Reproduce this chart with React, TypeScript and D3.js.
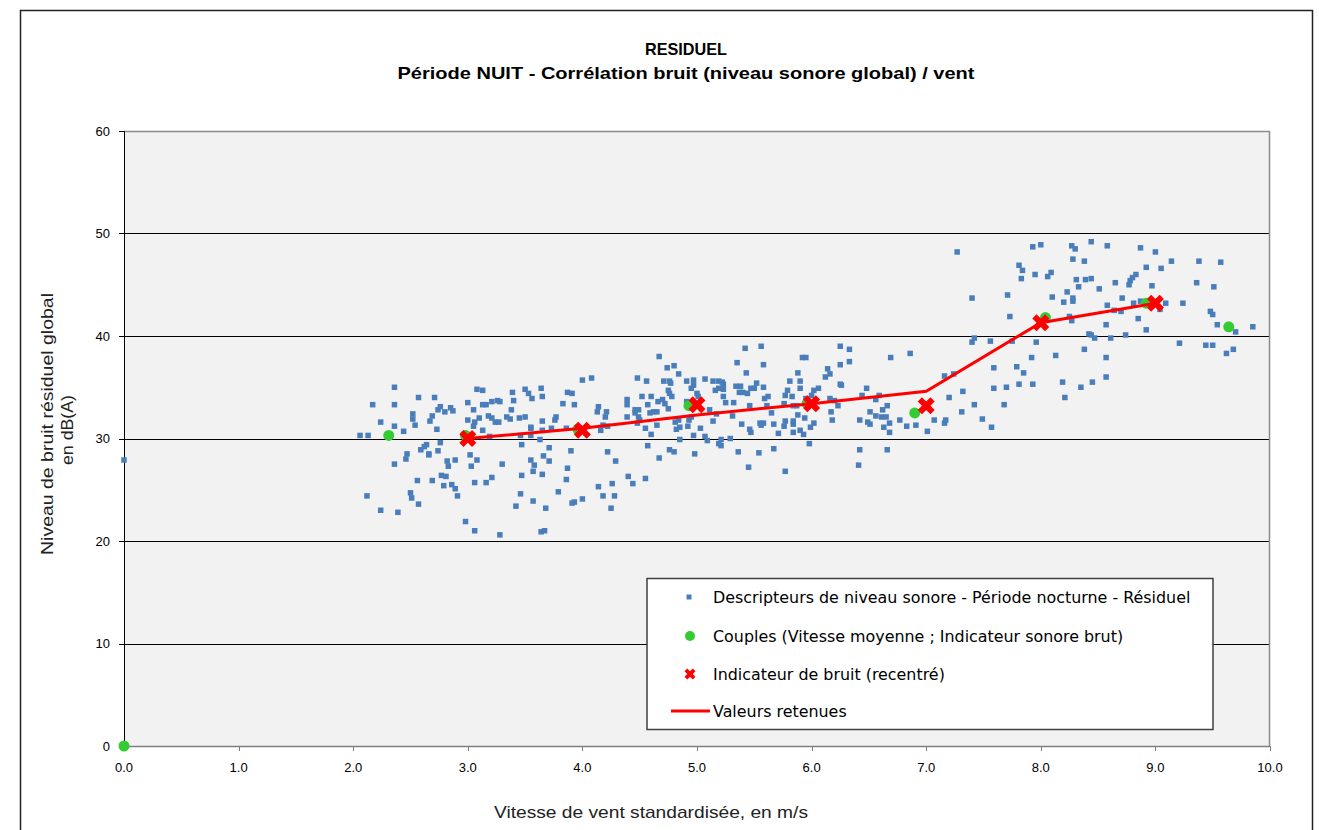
import React from 'react';
import * as d3 from 'd3';

// wind speed (m/s), level dB(A) - nightly residual descriptors
const descripteurs: [number, number][] = [
  [0, 27.9],
  [2.36, 35.0], [2.17, 33.3], [2.36, 33.3], [2.57, 34.0], [2.71, 34.0], [2.24, 31.6], [2.36, 31.2], [2.44, 30.7], [2.06, 30.3], [2.13, 30.3],
  [2.52, 32.4], [2.52, 31.9], [2.54, 31.3], [2.67, 31.7], [2.69, 32.2], [2.73, 30.9], [2.74, 32.8], [2.76, 33.1], [2.80, 32.6], [2.85, 33.0], [2.87, 32.7],
  [3.00, 33.5], [3.05, 32.8], [3.00, 31.8], [3.06, 31.6], [3.10, 32.0], [3.05, 31.2], [3.08, 34.8], [3.13, 34.7],
  [3.13, 33.3], [3.16, 33.3], [3.21, 33.6], [3.26, 33.7], [3.28, 33.6],
  [3.18, 32.2], [3.21, 32.0], [3.24, 31.6], [3.27, 31.6], [3.34, 32.1], [3.37, 31.9], [3.38, 32.8], [3.40, 33.7], [3.39, 34.5], [3.50, 34.8], [3.53, 34.4], [3.56, 33.9], [3.45, 32.0], [3.50, 32.1],
  [3.13, 30.8], [3.19, 30.2], [3.46, 30.3], [3.47, 29.4], [3.55, 31.1], [3.55, 30.3],
  [2.76, 29.6], [2.74, 28.8], [2.64, 29.4], [2.62, 29.2], [2.59, 28.9], [2.66, 28.5], [2.66, 28.4], [2.47, 28.5], [2.46, 28.0], [2.36, 27.5],
  [2.82, 27.8], [2.83, 27.3], [2.89, 27.9], [3.02, 28.4], [3.08, 27.9], [3.03, 27.3], [3.30, 27.5],
  [2.77, 26.4], [2.81, 26.3], [2.56, 25.9], [2.69, 25.9], [2.79, 25.4], [2.86, 25.5], [2.89, 25.1], [2.91, 24.4], [3.06, 25.7], [3.16, 25.7], [3.21, 26.2], [3.47, 26.4],
  [2.50, 24.7], [2.51, 24.2], [2.57, 23.6], [2.12, 24.4], [2.24, 23.0], [2.39, 22.8], [2.98, 21.9], [3.06, 21.0], [3.28, 20.6], [3.46, 24.6], [3.42, 23.4], [3.55, 27.9], [3.57, 23.9],
  [4.67, 38.0], [4.74, 36.9], [4.80, 37.1], [4.84, 36.3], [4.48, 35.9], [4.56, 35.6], [4.71, 35.6], [4.76, 35.6], [4.77, 35.4], [4.00, 35.7], [4.08, 35.9],
  [4.91, 35.6], [4.97, 35.7], [4.97, 35.2], [5.07, 35.8], [5.14, 35.6], [5.19, 35.6],
  [3.64, 34.9], [3.65, 34.1], [3.87, 34.5], [3.91, 34.4], [3.83, 33.4], [3.93, 33.3], [4.39, 33.8], [4.39, 33.3], [4.52, 34.1], [4.60, 34.1], [4.75, 34.7], [4.76, 34.4], [4.78, 34.1],
  [4.66, 33.6], [4.70, 33.8], [4.72, 33.4], [4.75, 32.9], [4.57, 33.3], [5.00, 34.4], [5.01, 34.1], [5.16, 34.7],
  [4.14, 33.1], [4.13, 32.6], [4.21, 32.6], [4.46, 32.8], [4.49, 32.8], [4.46, 32.5], [4.59, 32.5], [4.62, 32.6], [4.65, 32.6],
  [4.39, 32.1], [4.49, 32.1], [4.50, 31.8], [4.48, 31.5], [4.20, 32.1], [3.77, 32.1], [3.76, 31.8], [3.65, 31.7],
  [3.55, 31.0], [3.65, 30.8], [3.73, 31.0], [3.86, 31.0], [3.63, 29.9],
  [4.18, 31.3], [4.22, 31.2], [4.16, 30.8], [4.65, 31.3], [4.81, 31.6], [4.84, 31.8], [4.85, 31.1], [4.82, 30.9], [4.92, 31.2], [4.95, 32.1], [4.93, 31.8], [5.03, 31.0], [5.14, 31.7], [5.17, 32.4],
  [4.55, 31.0], [4.60, 30.4], [4.97, 30.3], [5.07, 30.2], [5.09, 29.8], [4.85, 29.9], [5.19, 29.5],
  [3.71, 29.1], [3.90, 28.8], [4.22, 28.7], [4.29, 27.8], [4.57, 29.3], [4.76, 28.9], [4.80, 28.7], [4.98, 28.5], [4.67, 28.1],
  [3.66, 28.3], [3.71, 27.8], [3.58, 27.4], [3.57, 26.8], [3.65, 26.5], [3.87, 27.1], [3.86, 26.0], [3.79, 24.8], [3.68, 23.2], [3.91, 23.7], [3.93, 23.8], [4.00, 24.1],
  [4.14, 25.3], [4.26, 25.6], [4.18, 24.4], [4.28, 24.4], [4.25, 23.2], [4.40, 26.3], [4.44, 25.6], [4.55, 26.1], [3.64, 20.9], [3.67, 21.0],
  [5.42, 38.8], [5.56, 39.0], [5.35, 37.4], [5.58, 37.2], [5.92, 37.9], [5.95, 37.9], [6.25, 39.0], [6.33, 38.7], [6.33, 37.5], [6.25, 37.2], [6.69, 37.9],
  [5.43, 36.4], [5.88, 36.4], [6.14, 36.8], [6.16, 36.3], [6.12, 36.0],
  [5.22, 35.5], [5.23, 35.3], [5.19, 34.9], [5.23, 34.8],
  [5.34, 35.1], [5.38, 35.1], [5.37, 34.5], [5.40, 34.5], [5.44, 34.4], [5.47, 34.9], [5.50, 34.9], [5.52, 35.4], [5.58, 35.0],
  [5.81, 35.6], [5.90, 35.6], [5.90, 34.9], [5.79, 34.7], [5.77, 34.2], [5.83, 34.1], [6.25, 35.3], [6.26, 35.2], [6.02, 34.7], [6.06, 34.9], [6.00, 34.2],
  [5.23, 34.1], [5.25, 33.5], [5.32, 33.5], [5.59, 33.9], [5.62, 34.1], [5.46, 33.2], [5.61, 33.2], [5.76, 33.4], [5.84, 33.2], [5.87, 33.2], [5.95, 33.9],
  [6.16, 33.9], [6.20, 33.7], [6.23, 33.2], [6.44, 34.2], [6.48, 34.9], [6.56, 33.8], [6.59, 34.2], [6.66, 33.2], [6.62, 32.8],
  [5.31, 32.2], [5.65, 32.5], [5.88, 32.3], [6.17, 32.6], [6.51, 32.6], [6.56, 32.2], [6.61, 32.1], [6.65, 32.1],
  [5.39, 31.4], [5.55, 31.5], [5.58, 31.5], [5.56, 31.3], [5.67, 31.4], [5.77, 31.7], [5.76, 31.2], [5.84, 31.7], [5.84, 31.4], [5.94, 32.0], [6.02, 31.5], [5.99, 31.1], [6.18, 31.8],
  [6.42, 31.8], [6.49, 31.6], [6.51, 31.4], [6.63, 31.1], [6.68, 31.5], [6.68, 30.6], [6.77, 31.8],
  [5.46, 30.9], [5.47, 30.6], [5.71, 30.5], [5.84, 30.6], [5.90, 30.8], [5.93, 30.4],
  [5.21, 29.9], [5.29, 30.0], [5.21, 29.3], [5.36, 28.7], [5.54, 28.6], [5.67, 29.0], [5.98, 29.5], [5.45, 27.2], [5.77, 26.8], [6.42, 28.9], [6.66, 28.9], [6.41, 27.4],
  [5.11, 32.8], [4.95, 34.9], [4.91, 33.6],
  [7.27, 48.2], [7.93, 48.7], [8.00, 48.9], [8.27, 48.8], [8.30, 48.5], [8.28, 47.5], [8.38, 47.3], [7.81, 46.9], [7.84, 46.4], [7.83, 45.6], [7.95, 46.0], [8.06, 45.8], [8.09, 46.2],
  [8.31, 45.5], [8.39, 45.5], [8.33, 44.8], [7.71, 44.0], [7.40, 43.7], [8.10, 43.8], [8.23, 44.3], [8.28, 43.7], [8.28, 43.4], [8.20, 43.3],
  [7.73, 41.9], [8.25, 41.9], [8.27, 41.5], [7.42, 39.8], [7.40, 39.4], [7.56, 39.5], [7.75, 39.5], [7.96, 39.4], [6.86, 38.3], [8.13, 38.1], [7.92, 37.9], [8.38, 38.7],
  [7.16, 36.1], [7.24, 36.3], [7.59, 36.9], [7.79, 37.0], [7.85, 36.4], [7.32, 34.6], [7.20, 34.0], [7.59, 34.9], [7.70, 35.0], [7.81, 35.3], [7.93, 35.3], [8.19, 35.5], [8.21, 34.0], [8.35, 35.0],
  [7.42, 33.3], [7.31, 32.6], [7.68, 33.3], [7.49, 31.9], [7.57, 31.1], [7.07, 31.8], [7.17, 31.8], [7.16, 31.5], [6.83, 31.2], [6.91, 31.3], [7.01, 30.7], [8.42, 40.2],
  [8.44, 49.2], [8.58, 48.8], [8.87, 48.6], [9.00, 48.2], [8.92, 46.7], [9.05, 46.6], [9.14, 47.3], [9.38, 47.3], [9.57, 47.2],
  [8.83, 46.0], [8.80, 45.7], [8.78, 45.4], [8.77, 45.0], [8.65, 45.2], [8.51, 44.6], [8.44, 45.6], [8.97, 44.9], [9.36, 45.2], [9.51, 44.8],
  [8.71, 43.7], [8.58, 43.0], [8.64, 42.5], [8.70, 42.4], [8.81, 43.2], [8.87, 43.4], [9.09, 43.2], [9.24, 43.2], [9.04, 42.6], [9.48, 42.4], [9.50, 42.1],
  [8.85, 41.7], [8.57, 41.1], [8.92, 40.6], [9.54, 41.1], [9.70, 40.4], [9.85, 40.9], [8.44, 40.1], [8.47, 39.8], [8.61, 39.8], [8.74, 40.1],
  [9.21, 39.3], [9.44, 39.1], [9.50, 39.1], [9.62, 38.3], [9.68, 38.7], [8.57, 37.9], [8.57, 36.0], [8.45, 35.5],
];

// couples (vitesse moyenne ; indicateur sonore brut)
const couplesVitesse = [0, 2.31, 2.98, 3.96, 4.93, 5.96, 6.90, 8.04, 8.92, 9.64];
const couplesNiveau = [0, 30.3, 30.3, 30.9, 33.2, 33.4, 32.5, 41.8, 43.2, 40.9];

// indicateur de bruit recentré + valeurs retenues
const classesVent = [3, 4, 5, 6, 7, 8, 9];
const indicateurs = [30.0, 30.8, 33.3, 33.4, 33.2, 41.3, 43.2];
const retenues = [30.0, 31.0, 32.3, 33.4, 34.6, 41.3, 43.2];

const yTicks = [0, 10, 20, 30, 40, 50, 60];
const xTicks = [0, 1, 2, 3, 4, 5, 6, 7, 8, 9, 10];

const legendLabels = [
  'Descripteurs de niveau sonore - Période nocturne - Résiduel',
  'Couples (Vitesse moyenne ; Indicateur sonore brut)',
  'Indicateur de bruit (recentré)',
  'Valeurs retenues',
];

const W = 1319;
const H = 830;
const plot = {left: 124, right: 1270, top: 131, bottom: 746};

const BLUE = '#4a7ebb';
const GREEN = '#33cc33';
const RED = '#ff0000';

const App: React.FC = () => {
  const x = d3.scaleLinear().domain([0, 10]).range([plot.left, plot.right]);
  const y = d3.scaleLinear().domain([0, 60]).range([plot.bottom, plot.top]);

  const linePath = d3
    .line<number>()
    .x((d, i) => x(classesVent[i]))
    .y((d) => y(d))(retenues);

  const cross = d3.symbol().type(d3.symbolCross).size(180)();
  const crossSmall = d3.symbol().type(d3.symbolCross).size(75)();

  const legendY = [597, 636, 674, 711];

  return (
    <svg
      width={W}
      height={H}
      style={{position: 'absolute', left: 0, top: 0, background: '#fff'}}
      fontFamily="'Liberation Sans', Arial, sans-serif"
    >
      {/* outer frame */}
      <rect x={20.5} y={10.5} width={1292} height={H} fill="none" stroke="#222" strokeWidth={1.5} />

      {/* title */}
      <text x={686} y={55} textAnchor="middle" fontWeight="bold" fontSize={17} fill="#000" textLength={82} lengthAdjust="spacingAndGlyphs">
        RESIDUEL
      </text>
      <text x={686} y={79} textAnchor="middle" fontWeight="bold" fontSize={17} fill="#000" textLength={577} lengthAdjust="spacingAndGlyphs">
        Période NUIT - Corrélation bruit (niveau sonore global) / vent
      </text>

      {/* plot area */}
      <rect x={plot.left} y={plot.top} width={plot.right - plot.left} height={plot.bottom - plot.top} fill="#f2f2f2" />
      {yTicks.slice(1, -1).map((t) => (
        <line key={'g' + t} x1={plot.left} x2={plot.right} y1={Math.round(y(t)) + 0.5} y2={Math.round(y(t)) + 0.5} stroke="#000" strokeWidth={1} />
      ))}
      <line x1={plot.left} x2={plot.right} y1={plot.top + 0.5} y2={plot.top + 0.5} stroke="#8c8c8c" strokeWidth={1.5} />
      <line x1={plot.right - 0.5} x2={plot.right - 0.5} y1={plot.top} y2={plot.bottom} stroke="#8c8c8c" strokeWidth={1.5} />
      <line x1={plot.left} x2={plot.right} y1={plot.bottom + 0.5} y2={plot.bottom + 0.5} stroke="#7f7f7f" strokeWidth={1.5} />
      <line x1={plot.left + 0.5} x2={plot.left + 0.5} y1={plot.top} y2={plot.bottom} stroke="#000" strokeWidth={1} />

      {/* y axis */}
      {yTicks.map((t) => (
        <g key={'y' + t}>
          <line x1={plot.left - 5} x2={plot.left} y1={Math.round(y(t)) + 0.5} y2={Math.round(y(t)) + 0.5} stroke="#000" />
          <text x={110} y={y(t) + 4.5} textAnchor="end" fontSize={13} fill="#000">
            {t}
          </text>
        </g>
      ))}
      {/* x axis */}
      {xTicks.map((t) => (
        <g key={'x' + t}>
          <line x1={Math.round(x(t)) + 0.5} x2={Math.round(x(t)) + 0.5} y1={plot.bottom} y2={plot.bottom + 5} stroke="#7f7f7f" />
          <text x={x(t)} y={772} textAnchor="middle" fontSize={13} fill="#000">
            {t.toFixed(1)}
          </text>
        </g>
      ))}

      {/* axis titles */}
      <text x={651} y={818} textAnchor="middle" fontSize={17} fill="#222" textLength={314} lengthAdjust="spacingAndGlyphs">
        Vitesse de vent standardisée, en m/s
      </text>
      <text transform="translate(53,424) rotate(-90)" textAnchor="middle" fontSize={17} fill="#222" textLength={262} lengthAdjust="spacingAndGlyphs">
        Niveau de bruit résiduel global
      </text>
      <text transform="translate(73,430) rotate(-90)" textAnchor="middle" fontSize={17} fill="#222" textLength={70} lengthAdjust="spacingAndGlyphs">
        en dB(A)
      </text>

      {/* descripteurs */}
      {descripteurs.map((d, i) => (
        <rect key={'d' + i} x={x(d[0]) - 2.75} y={y(d[1]) - 2.75} width={5.5} height={5.5} fill={BLUE} />
      ))}

      {/* couples */}
      {couplesVitesse.map((v, i) => (
        <circle key={'c' + i} cx={x(v)} cy={y(couplesNiveau[i])} r={5.5} fill={GREEN} />
      ))}

      {/* valeurs retenues */}
      <path d={linePath || ''} fill="none" stroke={RED} strokeWidth={3} />

      {/* indicateurs recentrés */}
      {classesVent.map((v, i) => (
        <path
          key={'x' + i}
          d={cross || ''}
          transform={`translate(${x(v)},${y(indicateurs[i])}) rotate(45)`}
          fill={RED}
        />
      ))}

      {/* legend */}
      <rect x={647} y={578.5} width={566} height={151} fill="#fff" stroke="#404040" strokeWidth={1.5} />
      <rect x={686.5} y={legendY[0] - 2.5} width={5} height={5} fill={BLUE} />
      <circle cx={690} cy={legendY[1]} r={5} fill={GREEN} />
      <path d={crossSmall || ''} transform={`translate(690,${legendY[2]}) rotate(45)`} fill={RED} />
      <line x1={671} x2={710} y1={legendY[3]} y2={legendY[3]} stroke={RED} strokeWidth={3} />
      {legendLabels.map((l, i) => (
        <text key={'l' + i} x={713} y={legendY[i] + 5.5} fontSize={15.9} fill="#000" fontFamily="'DejaVu Sans', sans-serif">
          {l}
        </text>
      ))}
    </svg>
  );
};

export default App;
